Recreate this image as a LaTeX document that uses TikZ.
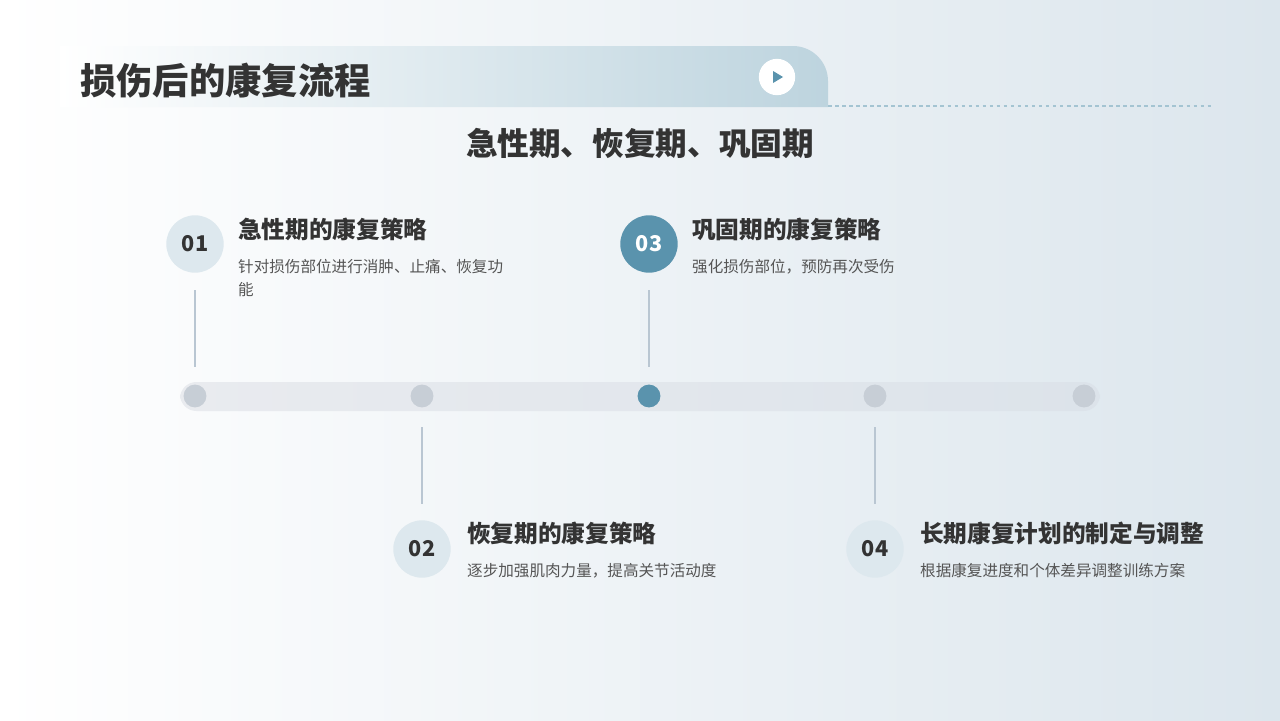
\documentclass[tikz,border=0pt]{standalone}
\usepackage{fontspec}
\setmainfont{Noto Sans CJK SC}
\begin{document}
\begin{tikzpicture}[x=0.03cm,y=-0.03cm,
  dot/.style={circle,fill=#1,minimum size=19.5pt,inner sep=0pt},
  vline/.style={draw=lineC,line width=1pt},
  num/.style={circle,fill=#1,minimum size=49pt,inner sep=0pt,font=\bfseries\fontsize{18.5}{20}\selectfont},
  head/.style={anchor=west,font=\bfseries\fontsize{20.2}{23}\selectfont,text=txt,inner sep=0pt},
  body/.style={anchor=north west,font=\fontsize{13.3}{19.5}\selectfont,text=txt2,inner sep=0pt,align=left}]
\definecolor{bgR}{HTML}{DCE6ED}
\definecolor{acc}{HTML}{5A93AD}
\definecolor{lineC}{HTML}{B9C6D2}
\definecolor{dotC}{HTML}{C7CED6}
\definecolor{soft}{HTML}{DDE8EE}
\definecolor{txt}{HTML}{333333}
\definecolor{txt2}{HTML}{555555}
\definecolor{barL}{HTML}{E9EBEF}
\definecolor{barR}{HTML}{DCE3EA}
\useasboundingbox (0,0) rectangle (1280,720);
\shade[left color=white,right color=bgR] (0,0) rectangle (1280,720);
% banner
\shade[left color=white,right color=acc!40]
  (60,46) [rounded corners=30] -- (828,46) [sharp corners] -- (828,107) -- (60,107) -- cycle;
\node[anchor=west,font=\bfseries\fontsize{31}{34}\selectfont,text=txt,inner sep=0pt] (title) at (80,81) {损伤后的康复流程};
\node[circle,fill=white,minimum size=31pt,inner sep=0pt] (play) at (777,77) {};
\fill[acc] (773,71) -- (783,77) -- (773,83) -- cycle;
\draw[acc!55,dashed,line width=1pt] (828,106) -- (1212,106);
\node[font=\bfseries\fontsize{27}{30}\selectfont,text=txt] (sub) at (640,143) {急性期、恢复期、巩固期};
% timeline
\shade[left color=barL,right color=barR,rounded corners=14] (180,382) rectangle (1100,411);
\node[dot=dotC] (d1) at (195,396) {};
\node[dot=dotC] (d2) at (422,396) {};
\node[dot=acc] (d3) at (649,396) {};
\node[dot=dotC] (d4) at (875,396) {};
\node[dot=dotC] (d5) at (1084,396) {};
\coordinate (t1) at (195,290); \coordinate (b1) at (195,367);
\coordinate (t3) at (649,290); \coordinate (b3) at (649,367);
\coordinate (t2) at (422,427); \coordinate (b2) at (422,504);
\coordinate (t4) at (875,427); \coordinate (b4) at (875,504);
\draw[vline] (t1) -- (b1); \draw[vline] (t3) -- (b3);
\draw[vline] (t2) -- (b2); \draw[vline] (t4) -- (b4);
% items
\node[num=soft,text=txt] (n1) at (195,244) {01};
\node[head] (h1) at (238,229) {急性期的康复策略};
\node[body] (p1) at (238,259) {针对损伤部位进行消肿、止痛、恢复功\\能};
\node[num=acc,text=white] (n3) at (649,244) {03};
\node[head] (h3) at (692,229) {巩固期的康复策略};
\node[body] (p3) at (692,259) {强化损伤部位，预防再次受伤};
\node[num=soft,text=txt] (n2) at (422,549) {02};
\node[head] (h2) at (467,533) {恢复期的康复策略};
\node[body] (p2) at (467,563) {逐步加强肌肉力量，提高关节活动度};
\node[num=soft,text=txt] (n4) at (875,549) {04};
\node[head] (h4) at (920,533) {长期康复计划的制定与调整};
\node[body] (p4) at (920,563) {根据康复进度和个体差异调整训练方案};
\end{tikzpicture}
\end{document}
